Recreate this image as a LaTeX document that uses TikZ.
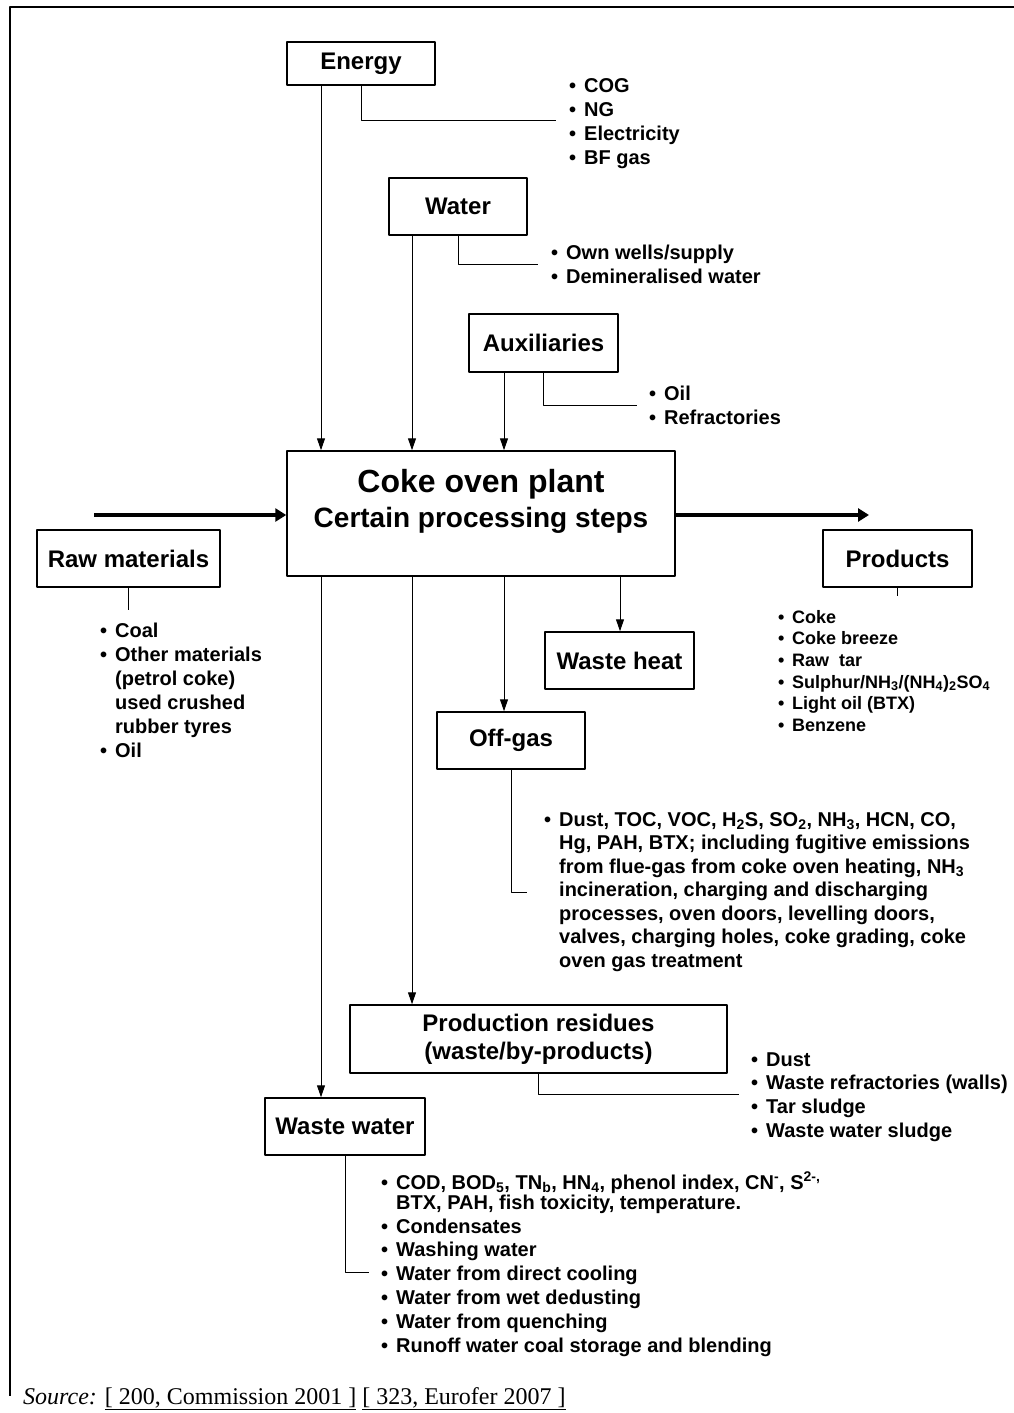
\documentclass[tikz,border=0pt]{standalone}
\usepackage{fontspec}
\setmainfont{Liberation Sans}
\newfontfamily\srcfont{Liberation Serif}
\usetikzlibrary{arrows.meta}
\newcommand\bul{\makebox[15pt][l]{\textbullet}}
\newcommand\ind{\makebox[15pt]{}}
\newcommand\pbul{\makebox[14pt][l]{\textbullet}}

\begin{document}
\begin{tikzpicture}[x=1pt,y=-1pt,>={Triangle[length=12pt,width=8pt]}, line join=round,
	box/.style={draw, line width=1.5pt, inner sep=0pt, font=\fontsize{24}{28}\selectfont\bfseries},
	list/.style={anchor=north west, inner sep=0pt, align=left, font=\fontsize{20}{24}\selectfont\bfseries},
	link/.style={line width=1pt},
	flow/.style={line width=4pt, -{Triangle[length=11pt,width=13pt]}}]
	\useasboundingbox (0,0) rectangle (1014,1413);
	\draw[line width=2pt] (1014,7) -- (10,7) -- (10,1396);
	% boxes
	\node[box, minimum width=148pt, minimum height=43pt] (energy) at (361,63.5) {Energy};
	\node[box, minimum width=138pt, minimum height=57pt] (water) at (458,206.5) {Water};
	\node[box, minimum width=149pt, minimum height=58pt] (aux) at (543.5,343) {Auxiliaries};
	\node[box, minimum width=388pt, minimum height=125pt] (plant) at (481,513.5) {};
	\node[align=center, inner sep=0pt, font=\fontsize{28}{35}\selectfont\bfseries] (plantname) at (481,501.75)
		{{\fontsize{32}{35}\selectfont Coke oven plant}\\Certain processing steps};
	\node[box, minimum width=183pt, minimum height=57pt] (raw) at (128.5,558.5) {Raw materials};
	\node[box, minimum width=149pt, minimum height=57pt] (products) at (897.5,558.5) {Products};
	\node[box, minimum width=149pt, minimum height=57pt] (heat) at (619.5,660.5) {Waste heat};
	\node[box, minimum width=148pt, minimum height=57pt] (offgas) at (511,740.5) {Off-gas};
	\node[box, minimum width=377pt, minimum height=68pt, align=center] (residues) at (538.5,1039)
		{Production residues\\(waste/by-products)};
	\node[box, minimum width=160pt, minimum height=57pt] (wastewater) at (345,1126.5) {Waste water};
	% lists
	\node[list] (energylist) at (569,76) {\rule{0pt}{16pt}\bul COG\\\bul NG\\\bul Electricity\\\bul BF gas};
	\node[list] (waterlist) at (551,243) {\rule{0pt}{16pt}\bul Own wells/supply\\\bul Demineralised water};
	\node[list] (auxlist) at (649,384) {\rule{0pt}{16pt}\bul Oil\\\bul Refractories};
	\node[list] (rawlist) at (100,621) {\rule{0pt}{16pt}\bul Coal\\\bul Other materials\\\ind (petrol coke)\\
		\ind used crushed\\\ind rubber tyres\\\bul Oil};
	\node[list, font=\fontsize{18}{21.6}\selectfont\bfseries] (prodlist) at (778,607) {\rule{0pt}{16pt}\pbul Coke\\
		\pbul Coke breeze\\\pbul Raw\ \ tar\\
		\pbul Sulphur/NH\textsubscript{3}/(NH\textsubscript{4})\textsubscript{2}SO\textsubscript{4}\\
		\pbul Light oil (BTX)\\\pbul Benzene};
	\node[list, font=\fontsize{20}{23.5}\selectfont\bfseries] (offgaslist) at (544,810) {\rule{0pt}{16pt}%
		\bul Dust, TOC, VOC, H\textsubscript{2}S, SO\textsubscript{2}, NH\textsubscript{3}, HCN, CO,\\
		\ind Hg, PAH, BTX; including fugitive emissions\\
		\ind from flue-gas from coke oven heating, NH\textsubscript{3}\\
		\ind incineration, charging and discharging\\
		\ind processes, oven doors, levelling doors,\\
		\ind valves, charging holes, coke grading, coke\\
		\ind oven gas treatment};
	\node[list, font=\fontsize{20}{23.7}\selectfont\bfseries] (reslist) at (751,1050) {\rule{0pt}{16pt}\bul Dust\\
		\bul Waste refractories (walls)\\\bul Tar sludge\\\bul Waste water sludge};
	\node[list, font=\fontsize{20}{23.8}\selectfont\bfseries] (wwlist) at (381,1172) {\rule{0pt}{16pt}%
		\bul COD, BOD\textsubscript{5}, TN\textsubscript{b}, HN\textsubscript{4}, phenol index, CN\textsuperscript{-}, S\textsuperscript{2-,}\\[-4pt]
		\ind BTX, PAH, fish toxicity, temperature.\\
		\bul Condensates\\\bul Washing water\\\bul Water from direct cooling\\
		\bul Water from wet dedusting\\\bul Water from quenching\\
		\bul Runoff water coal storage and blending};
	\node[anchor=base west, inner sep=0pt, font=\srcfont\fontsize{24}{28}\selectfont] (source) at (23,1404)
		{\textit{Source:} \underline{[ 200, Commission 2001 ]} \underline{[ 323, Eurofer 2007 ]}};
	% inputs and outputs of the plant
	\foreach \dx/\n in {-160/energy,-69/water,23/aux}
		\draw[link,->] ([xshift=\dx pt]plant.north |- \n.south) -- ([xshift=\dx pt]plant.north);
	\foreach \dx/\n in {-160/wastewater,-69/residues,23/offgas,139/heat}
		\draw[link,->] ([xshift=\dx pt]plant.south) -- ([xshift=\dx pt]plant.south |- \n.north);
	\coordinate (feed) at (94,515);
	\coordinate (yield) at (869,515);
	\draw[flow] (feed) -- (feed -| plant.west);
	\draw[flow] (yield -| plant.east) -- (yield);
	% connectors to the lists
	\coordinate (energyend) at (556,120);
	\coordinate (waterend) at (538,264);
	\coordinate (auxend) at (637,405);
	\coordinate (offgasend) at (527,892);
	\coordinate (resend) at (739,1094);
	\coordinate (wwend) at (369,1272);
	\coordinate (rawend) at (130,610);
	\coordinate (prodend) at (898,596);
	\draw[link] (energy.south) |- (energyend);
	\draw[link] (water.south) |- (waterend);
	\draw[link] (aux.south) |- (auxend);
	\draw[link] (offgas.south) |- (offgasend);
	\draw[link] (residues.south) |- (resend);
	\draw[link] (wastewater.south) |- (wwend);
	\draw[link] (raw.south) -- (raw.south |- rawend);
	\draw[link] (products.south) -- (products.south |- prodend);
\end{tikzpicture}
\end{document}
